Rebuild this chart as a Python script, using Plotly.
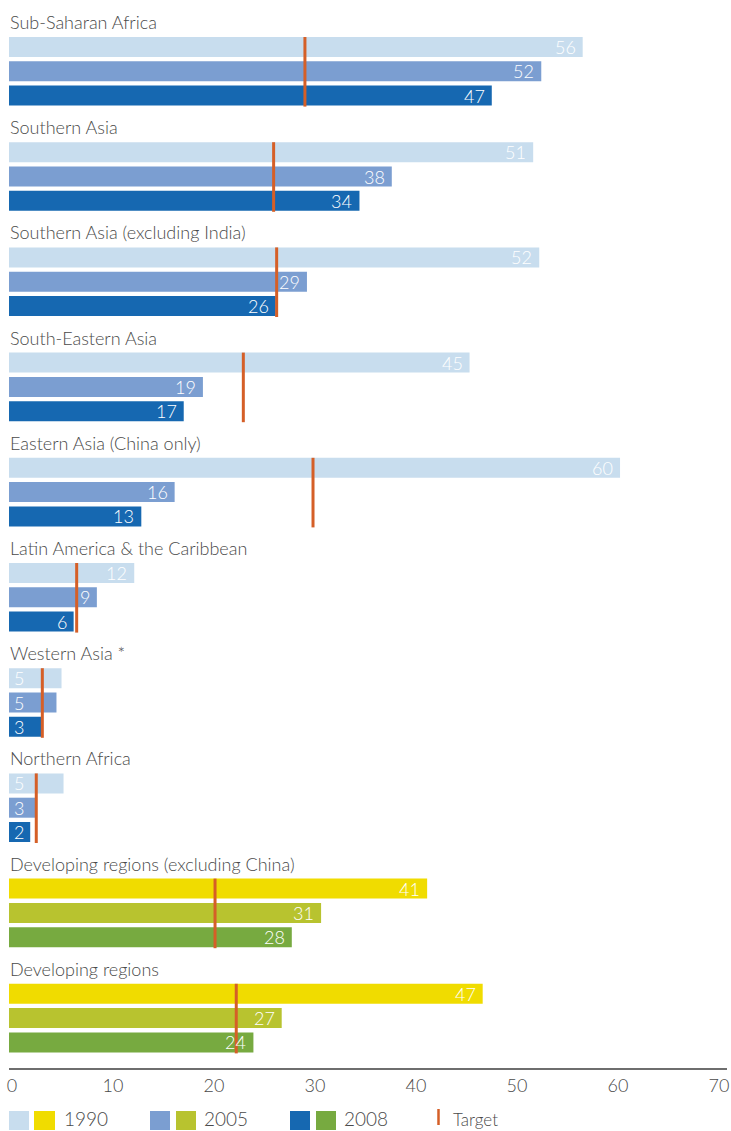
import plotly.graph_objects as go

# ---------------- data ----------------
regions = [
    "Sub-Saharan Africa",
    "Southern Asia",
    "Southern Asia (excluding India)",
    "South-Eastern Asia",
    "Eastern Asia (China only)",
    "Latin America & the Caribbean",
    "Western Asia *",
    "Northern Africa",
    "Developing regions (excluding China)",
    "Developing regions",
]
v1990 = [56.8, 51.9, 52.5, 45.6, 60.5, 12.4, 5.2, 5.4, 41.4, 46.9]
v2005 = [52.7, 37.9, 29.5, 19.2, 16.4, 8.7, 4.7, 2.6, 30.9, 27.0]
v2008 = [47.8, 34.7, 26.4, 17.3, 13.1, 6.4, 3.2, 2.1, 28.0, 24.2]
target = [29.3, 26.2, 26.5, 23.2, 30.1, 6.7, 3.3, 2.7, 20.4, 22.5]
lab1990 = [56, 51, 52, 45, 60, 12, 5, 5, 41, 47]
lab2005 = [52, 38, 29, 19, 16, 9, 5, 3, 31, 27]
lab2008 = [47, 34, 26, 17, 13, 6, 3, 2, 28, 24]
years = ["1990", "2005", "2008"]
x_ticks = [0, 10, 20, 30, 40, 50, 60, 70]

# ---------------- styles ----------------
blue = ["#c8ddee", "#7b9ed1", "#1668b1"]
green = ["#f0dc00", "#b8c32f", "#77aa40"]
is_dev = [False] * 8 + [True] * 2
target_color = "#d55f27"
text_color = "#4a4a4a"
FONT = "Lato"

W, H = 731, 1131
ML, MR, MT = 9, 4, 0
AXIS_Y = 1068  # page px of x axis line
MB = H - AXIS_Y
XMAX = (W - ML - MR) / 10.1

GROUP_TOP0 = 37.0
GROUP_PITCH = 105.2
BAR_PITCH = 24.3
BAR_H = 20

def bar_center(g, k):
    return GROUP_TOP0 + GROUP_PITCH * g + BAR_PITCH * k + BAR_H / 2

def px2paper_x(px):
    return (px - ML) / (W - ML - MR)

def px2paper_y(py):
    return (AXIS_Y - py) / (AXIS_Y - MT)

fig = go.Figure()

series = [v1990, v2005, v2008]
labels = [lab1990, lab2005, lab2008]
annotations = []

for k in range(3):
    ys = [bar_center(g, k) for g in range(len(regions))]
    cols = [green[k] if is_dev[g] else blue[k] for g in range(len(regions))]
    fig.add_trace(go.Bar(
        x=series[k], y=ys, orientation="h", width=BAR_H,
        marker=dict(color=cols, line=dict(width=0)),
        showlegend=False, hoverinfo="x",
    ))
    for g in range(len(regions)):
        lab = labels[k][g]
        if lab > 5:
            annotations.append(dict(
                x=series[k][g], y=ys[g], xref="x", yref="y",
                text=str(lab), showarrow=False, xanchor="right", yanchor="middle",
                xshift=-5, yshift=0,
                font=dict(family=FONT, size=18, color="white", weight=300),
            ))
        else:
            annotations.append(dict(
                x=0, y=ys[g], xref="x", yref="y",
                text=str(lab), showarrow=False, xanchor="left", yanchor="middle",
                xshift=3, yshift=0,
                font=dict(family=FONT, size=18, color="white", weight=300),
            ))

# target lines
tx, ty = [], []
for g in range(len(regions)):
    top = bar_center(g, 0) - BAR_H / 2
    bot = bar_center(g, 2) + BAR_H / 2
    tx += [target[g], target[g], None]
    ty += [top, bot + 1, None]
fig.add_trace(go.Scatter(
    x=tx, y=ty, mode="lines",
    line=dict(color=target_color, width=3),
    showlegend=False, hoverinfo="skip",
))

# region titles
for g, name in enumerate(regions):
    annotations.append(dict(
        x=0, y=bar_center(g, 0) - BAR_H / 2 - 15, xref="x", yref="y",
        text=name, showarrow=False, xanchor="left", yanchor="middle",
        xshift=-1,
        font=dict(family=FONT, size=18, color=text_color, weight=300),
    ))

# custom legend
shapes = []
leg_top, leg_bot = 1111, 1130
sw_x = [(9, 29, 34, 55, 62), (150, 170, 176, 196, 202), (290, 310, 316, 336, 342)]
for k, (a0, a1, b0, b1, tx0) in enumerate(sw_x):
    for (x0, x1, c) in [(a0, a1, blue[k]), (b0, b1, green[k])]:
        shapes.append(dict(
            type="rect", xref="paper", yref="paper",
            x0=px2paper_x(x0), x1=px2paper_x(x1),
            y0=px2paper_y(leg_bot), y1=px2paper_y(leg_top),
            fillcolor=c, line=dict(width=0), layer="above",
        ))
    annotations.append(dict(
        x=px2paper_x(tx0), y=px2paper_y(1118),
        xref="paper", yref="paper", text=years[k], showarrow=False,
        xanchor="left", yanchor="middle",
        font=dict(family=FONT, size=19, color=text_color, weight=300),
    ))
shapes.append(dict(
    type="line", xref="paper", yref="paper",
    x0=px2paper_x(438.5), x1=px2paper_x(438.5),
    y0=px2paper_y(1125), y1=px2paper_y(1109),
    line=dict(color=target_color, width=2.5),
))
annotations.append(dict(
    x=px2paper_x(451), y=px2paper_y(1119),
    xref="paper", yref="paper", text="Target", showarrow=False,
    xanchor="left", yanchor="middle",
    font=dict(family=FONT, size=17, color=text_color, weight=300),
))

fig.update_layout(
    width=W, height=H,
    margin=dict(l=ML, r=MR, t=MT, b=MB, pad=0),
    paper_bgcolor="white", plot_bgcolor="white",
    barmode="overlay",
    font=dict(family=FONT, color=text_color),
    xaxis=dict(
        range=[0, XMAX], tickvals=x_ticks, ticktext=[str(t) for t in x_ticks],
        showgrid=False, zeroline=False,
        showline=True, linecolor="#6e6e6e", linewidth=2,
        ticks="", ticklabelstandoff=0, ticklabelshift=3,
        tickfont=dict(family=FONT, size=18, color=text_color, weight=300),
        fixedrange=True,
    ),
    yaxis=dict(
        range=[AXIS_Y, MT], showgrid=False, zeroline=False, showline=False,
        showticklabels=False, ticks="", fixedrange=True,
    ),
    annotations=annotations,
    shapes=shapes,
)

fig.write_html(
    "out.html",
    config={"displayModeBar": False},
    post_script="document.body.style.margin='0';document.body.style.overflow='hidden';",
)
